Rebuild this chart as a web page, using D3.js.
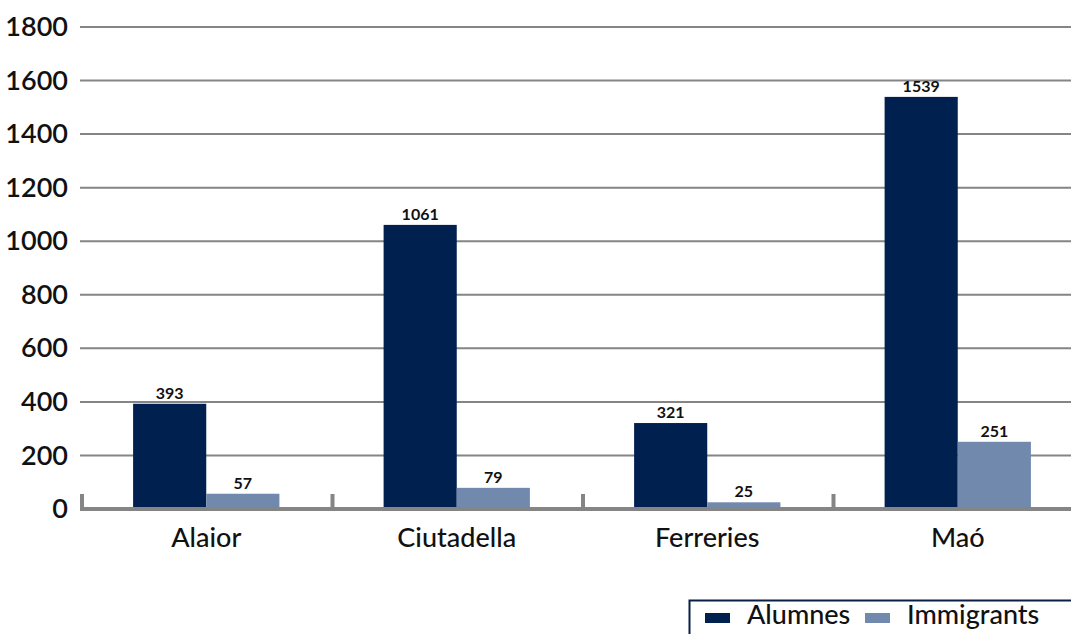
<!DOCTYPE html>
<html>
<head>
<meta charset="utf-8">
<script src="https://cdn.jsdelivr.net/npm/d3@7"></script>
<style>
  body { margin: 0; background: #fff; }
  svg { display: block; font-family: "Gill Sans", Lato, "Open Sans", sans-serif; }
</style>
</head>
<body>
<div id="content"></div>
<script>
let towns = ["Alaior", "Ciutadella", "Ferreries", "Maó"];
let seriesNames = ["Alumnes", "Immigrants"];
let alumnes = [393, 1061, 321, 1539];
let immigrants = [57, 79, 25, 251];
let yTicks = [0, 200, 400, 600, 800, 1000, 1200, 1400, 1600, 1800];

const W = 1071, H = 634;
const colors = ["#002050", "#7189ad"];

let svg = d3.select("#content")
    .append("svg")
    .attr("width", W)
    .attr("height", H);

const x0 = d3.scaleBand()
    .domain(towns)
    .range([82, 1082])
    .paddingInner(0.416)
    .paddingOuter(0.204);

const x1 = d3.scaleBand()
    .domain(seriesNames)
    .range([0, x0.bandwidth()]);

const y = d3.scaleLinear()
    .domain([0, 1800])
    .range([509, 27]);

// grid lines
svg.append("g")
    .selectAll("line")
    .data(yTicks.slice(1))
    .enter()
    .append("line")
    .attr("x1", 80)
    .attr("x2", W)
    .attr("y1", d => y(d))
    .attr("y2", d => y(d))
    .attr("stroke", "#858585")
    .attr("stroke-width", 2);

// y labels
let yAxis = svg.append("g")
    .attr("transform", "translate(68,0)")
    .call(d3.axisLeft(y).tickValues(yTicks).tickSize(0).tickPadding(0).tickFormat(d3.format("d")));
yAxis.select(".domain").remove();
yAxis.selectAll("text")
    .attr("font-size", 27)
    .attr("font-weight", 600)
    .attr("fill", "#111")
    .style("font-family", "'Gill Sans', Lato, sans-serif");

// bars
let rows = towns.map((t, i) => ({ town: t, vals: [alumnes[i], immigrants[i]] }));

let groups = svg.append("g")
    .selectAll("g")
    .data(rows)
    .enter()
    .append("g")
    .attr("transform", d => "translate(" + x0(d.town) + ",0)");

groups.selectAll("rect")
    .data(d => d.vals.map((v, j) => ({ key: seriesNames[j], v: v, j: j })))
    .enter()
    .append("rect")
    .attr("x", d => x1(d.key))
    .attr("y", d => y(d.v))
    .attr("width", x1.bandwidth())
    .attr("height", d => y(0) - y(d.v))
    .attr("fill", d => colors[d.j]);

groups.selectAll("text")
    .data(d => d.vals.map((v, j) => ({ key: seriesNames[j], v: v })))
    .enter()
    .append("text")
    .attr("x", d => x1(d.key) + x1.bandwidth() / 2)
    .attr("y", d => y(d.v) - 5)
    .attr("text-anchor", "middle")
    .attr("font-size", 16)
    .attr("font-weight", 700)
    .attr("fill", "#111")
    .text(d => d.v);

// x axis
let xAxis = svg.append("g")
    .attr("transform", "translate(0," + y(0) + ")");

xAxis.append("line")
    .attr("x1", 80)
    .attr("x2", W)
    .attr("stroke", "#858585")
    .attr("stroke-width", 4);

xAxis.selectAll(".tick-mark")
    .data(towns)
    .enter()
    .append("line")
    .attr("x1", d => x0(d) - x0.step() * 0.204)
    .attr("x2", d => x0(d) - x0.step() * 0.204)
    .attr("y1", -15)
    .attr("y2", 0)
    .attr("stroke", "#858585")
    .attr("stroke-width", 4);

xAxis.selectAll(".cat")
    .data(towns)
    .enter()
    .append("text")
    .attr("x", d => x0(d) + x0.bandwidth() / 2)
    .attr("y", 38)
    .attr("text-anchor", "middle")
    .attr("font-size", 27)
    .attr("font-weight", 500)
    .attr("fill", "#111")
    .text(d => d);

// legend
let legend = svg.append("g").attr("transform", "translate(689,600)");
legend.append("rect")
    .attr("x", 0.5)
    .attr("y", 0.5)
    .attr("width", 400)
    .attr("height", 60)
    .attr("fill", "#fff")
    .attr("stroke", "#0b1f45")
    .attr("stroke-width", 2);

let legendX = [16, 176];
seriesNames.forEach(function (d, i) {
    legend.append("rect")
        .attr("x", legendX[i])
        .attr("y", 13)
        .attr("width", 25)
        .attr("height", 10)
        .attr("fill", colors[i]);
    legend.append("text")
        .attr("x", legendX[i] + 42)
        .attr("y", 24)
        .attr("font-size", 27)
        .attr("font-weight", 500)
        .attr("fill", "#111")
        .text(d);
});
</script>
</body>
</html>
